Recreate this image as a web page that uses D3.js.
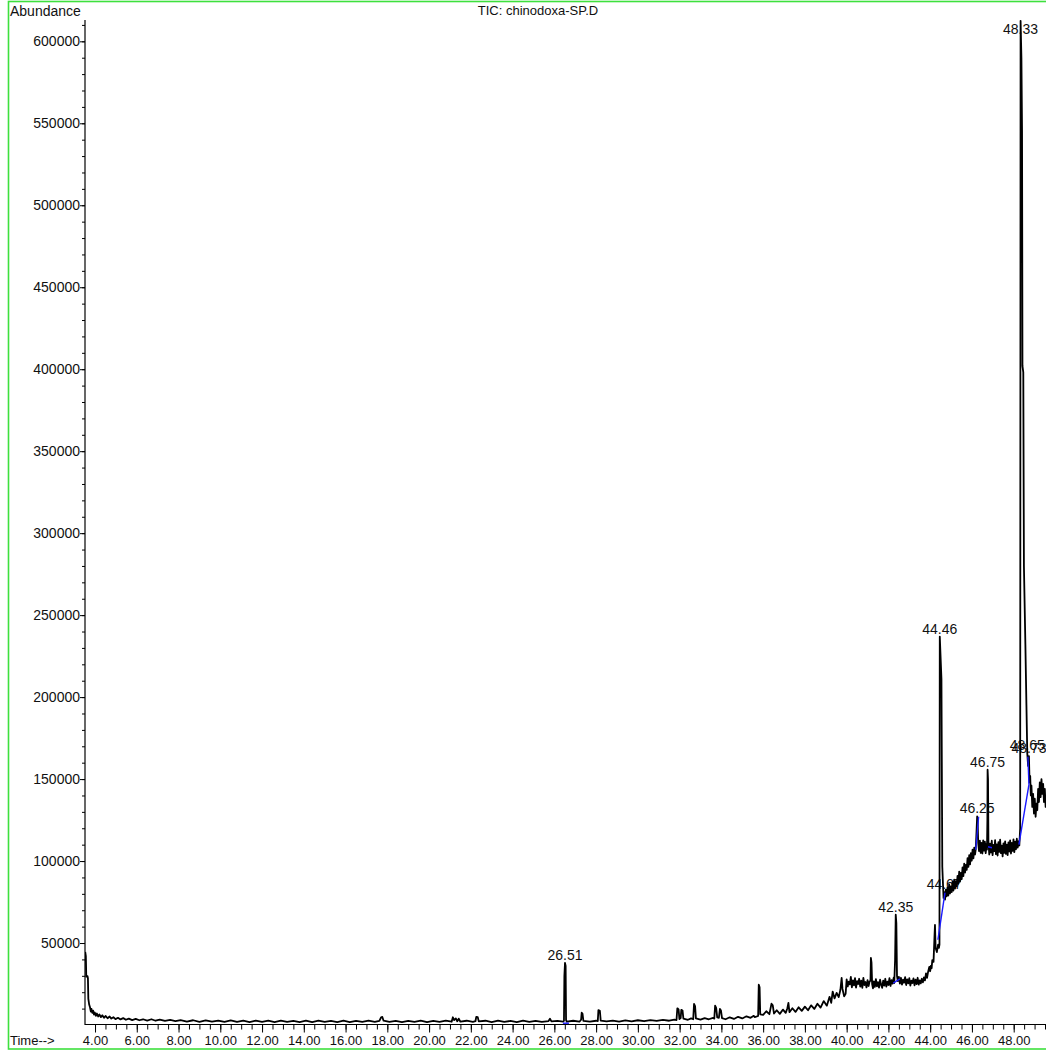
<!DOCTYPE html>
<html><head><meta charset="utf-8">
<script src="https://cdn.jsdelivr.net/npm/d3@7"></script>
<style>
html,body{margin:0;padding:0;background:#fff;overflow:hidden}
svg{display:block;font-family:"Liberation Sans",Arial,Helvetica,sans-serif}
</style></head><body>
<svg id="chart" width="1046" height="1053"></svg>
<script>
// Total ion chromatogram: [retention time (min), abundance]
const ticPoints = [
[3.53,44600],[3.56,42000],[3.57,36000],[3.58,29500],[3.64,29800],[3.66,28500],[3.68,16000],[3.72,12500],[3.76,10800],[3.80,8200],
[3.83,9800],[3.87,7400],[3.91,8800],[3.95,6300],[3.99,7600],[4.04,5600],[4.09,7000],[4.15,5200],[4.21,6400],[4.28,4800],
[4.35,5900],[4.43,4400],[4.51,5500],[4.60,4100],[4.70,5200],[4.78,3900],[4.88,4700],[4.98,3600],[5.10,4400],[5.22,3400],
[5.35,4200],[5.48,3200],[5.62,3900],[5.78,3000],[5.95,3700],[6.12,2900],[6.30,3500],[6.50,2700],[6.70,3500],[6.90,2600],
[7.10,3300],[7.35,2500],[7.60,3100],[7.85,2400],[8.10,3000],[8.40,2100],[8.70,2900],[9.00,1900],[9.30,2800],[9.60,2000],
[9.90,2700],[10.20,1900],[10.50,2800],[10.80,1900],[11.10,2600],[11.40,1800],[11.70,2700],[12.00,1900],[12.30,2600],[12.60,1800],
[12.90,2700],[13.20,1900],[13.50,2500],[13.80,1800],[14.10,2600],[14.40,1800],[14.70,2600],[15.00,1900],[15.30,2500],[15.60,1800],
[15.90,2600],[16.20,1800],[16.50,2500],[16.80,1900],[17.10,2600],[17.40,1900],[17.62,2500],[17.70,4700],[17.76,4900],[17.82,2600],
[18.10,1900],[18.40,2500],[18.70,1800],[19.00,2500],[19.30,1900],[19.60,2600],[19.90,1800],[20.20,2500],[20.50,1900],[20.80,2600],
[21.08,2000],[21.14,4700],[21.20,3000],[21.28,4000],[21.35,2300],[21.42,3900],[21.50,2000],[21.80,2600],[22.10,1900],[22.22,2300],
[22.26,5000],[22.33,4800],[22.38,2200],[22.70,2600],[23.00,1800],[23.30,2600],[23.60,1900],[23.90,2500],[24.20,1800],[24.50,2600],
[24.80,1900],[25.10,2500],[25.40,1900],[25.72,2400],[25.79,3800],[25.86,2200],[26.15,2500],[26.42,2000],[26.46,2600],[26.48,30000],
[26.51,37900],[26.54,36000],[26.56,3000],[26.60,2000],[26.90,2600],[27.20,2000],[27.28,3200],[27.31,7500],[27.35,6800],[27.39,2500],
[27.70,2000],[28.00,2600],[28.08,2400],[28.11,9100],[28.18,8700],[28.22,2700],[28.50,2200],[28.80,2700],[29.10,2100],[29.40,2800],
[29.70,2200],[30.00,2900],[30.30,2300],[30.60,3000],[30.90,2500],[31.20,3100],[31.50,2600],[31.75,3300],[31.85,3000],[31.89,10200],
[31.95,9500],[31.99,3600],[32.05,4200],[32.08,9200],[32.14,8800],[32.18,3900],[32.40,3200],[32.55,4000],[32.65,3500],[32.69,12800],
[32.74,11500],[32.78,4000],[33.00,3300],[33.20,4200],[33.40,3500],[33.60,4300],[33.66,3900],[33.70,11800],[33.75,10500],[33.80,4600],
[33.88,4400],[33.93,9800],[33.98,8800],[34.03,4200],[34.20,3500],[34.40,4700],[34.60,3700],[34.80,5000],[35.00,4000],[35.20,5300],
[35.40,4400],[35.55,5600],[35.60,4800],[35.76,5500],[35.79,24600],[35.83,23000],[35.86,6500],[36.00,6200],[36.15,8400],[36.30,6600],
[36.40,13000],[36.46,12000],[36.52,7000],[36.65,9000],[36.80,6800],[36.95,9400],[37.08,7400],[37.16,10200],[37.21,13500],[37.26,7800],
[37.40,10200],[37.55,8000],[37.70,10800],[37.85,8600],[38.00,11200],[38.15,9000],[38.30,12000],[38.45,9800],[38.60,13000],[38.75,10600],
[38.90,14600],[39.05,11800],[39.18,17200],[39.26,13500],[39.33,20400],[39.42,16200],[39.52,19600],[39.62,17000],[39.70,21500],[39.76,28700],
[39.80,22000],[39.88,17500],[39.95,19000],
[40.00,27800],[40.05,23500],[40.10,26500],[40.15,24800],[40.20,29300],[40.25,23000],[40.30,27200],[40.35,24200],[40.40,28600],[40.45,22800],
[40.50,26800],[40.55,25000],[40.60,28200],[40.65,23400],[40.70,27000],[40.75,22600],[40.80,28800],[40.85,24400],[40.90,26200],[40.95,22900],
[41.00,27400],[41.05,23800],[41.10,26600],[41.14,27000],[41.16,40900],[41.19,38000],[41.22,25000],[41.26,22400],[41.30,26600],[41.35,23200],
[41.40,28000],[41.45,23600],[41.50,26200],[41.55,22800],[41.60,27600],[41.65,24600],[41.70,22700],[41.75,27000],[41.80,24000],[41.85,28200],
[41.90,23400],[41.95,26400],[42.00,24400],[42.05,28600],[42.10,23800],[42.15,27400],[42.20,25200],[42.25,28800],[42.28,25600],[42.32,40000],
[42.35,67300],[42.38,62000],[42.41,30000],[42.45,26800],[42.50,29400],[42.55,25200],[42.60,28800],[42.65,24600],[42.70,27600],[42.75,25800],
[42.80,29200],[42.85,24400],[42.90,27800],[42.95,25400],[43.00,28600],[43.05,24000],[43.10,27000],[43.15,25600],[43.20,28400],[43.25,24200],
[43.30,27600],[43.35,25000],[43.40,28800],[43.45,24600],[43.50,27200],[43.55,25400],[43.60,28200],[43.65,26000],[43.70,29000],[43.75,27200],
[43.80,31500],[43.85,28800],[43.90,32400],[43.96,35500],[44.00,32800],[44.03,36000],[44.07,34600],[44.10,39500],[44.16,38500],[44.21,55000],
[44.23,61000],[44.26,47000],[44.32,44500],[44.38,49000],[44.42,47000],[44.445,49000],[44.46,236900],[44.54,210800],[44.58,96700],[44.64,77500],
[44.67,81000],[44.71,76500],[44.75,82500],[44.79,78500],[44.83,84000],[44.87,79000],[44.91,85800],[44.95,80200],[44.99,84600],[45.03,81000],
[45.07,87500],[45.11,82000],[45.15,88600],[45.19,83200],[45.23,87800],[45.27,84600],[45.31,91000],[45.35,86200],[45.39,93600],[45.43,87400],
[45.47,92800],[45.51,89000],[45.55,96200],[45.59,90800],[45.63,98400],[45.67,93000],[45.71,97600],[45.75,94600],[45.79,101800],[45.83,96400],
[45.87,103600],[45.91,98000],[45.95,104800],[45.99,100200],[46.03,107000],[46.07,101600],[46.11,108200],[46.15,104000],[46.18,107000],[46.21,115000],
[46.25,127200],[46.27,126000],[46.30,111000],[46.34,106000],[46.38,112500],[46.42,105000],[46.46,111000],[46.50,104600],[46.54,112600],[46.58,106400],
[46.62,111800],[46.66,104800],[46.70,110500],[46.72,107000],[46.74,125000],[46.75,155700],[46.77,150000],[46.79,112000],[46.83,104000],[46.87,110600],
[46.91,105200],[46.95,112400],[46.99,103600],[47.03,109800],[47.07,106000],[47.11,112800],[47.15,104200],[47.19,110200],[47.23,103400],[47.27,111600],
[47.31,105600],[47.35,113000],[47.39,104800],[47.43,109400],[47.47,102800],[47.51,110800],[47.55,105000],[47.59,112000],[47.63,104400],[47.67,110000],
[47.71,103600],[47.75,111400],[47.79,105800],[47.83,112600],[47.87,104600],[47.91,111000],[47.95,106200],[47.99,113200],[48.03,105400],[48.07,111800],
[48.11,107200],[48.15,113600],[48.19,108200],[48.23,112000],[48.27,109500],[48.31,120000],[48.33,612500],[48.37,590000],[48.40,545000],[48.42,402000],
[48.46,398000],[48.49,280000],[48.56,232000],[48.61,195000],[48.65,166000],[48.69,158000],[48.73,164000],[48.76,148000],[48.79,152000],[48.82,140000],
[48.85,146000],[48.89,133000],[48.93,141000],[48.97,129000],[49.01,138000],[49.05,127000],[49.09,135000],[49.13,131000],[49.17,144000],[49.21,136000],
[49.25,148000],[49.29,139000],[49.33,150000],[49.37,141000],[49.41,147000],[49.45,136000],[49.49,144000],[49.53,133000],[49.58,140000]
];

// Integration baselines: [start time, start abundance, end time, end abundance]
const baselineSegments = [
[26.41,1100,26.70,1100],
[42.23,25600,42.55,28100],
[44.37,52000,44.71,80800],
[46.18,106900,46.32,127000],
[46.77,108700,46.96,108100],
[48.25,110000,48.73,146600],
[48.73,146600,48.68,163700]
];

// Retention times of labelled peaks
const peakLabelTimes = [26.51, 42.35, 44.46, 44.67, 46.25, 46.75, 48.33, 48.65, 48.73];

// Axis ticks
const yMajorTicks = [50000,100000,150000,200000,250000,300000,350000,400000,450000,500000,550000,600000];
const xMajorTicks = [4,6,8,10,12,14,16,18,20,22,24,26,28,30,32,34,36,38,40,42,44,46,48];

const svg = d3.select("#chart");

const x = d3.scaleLinear().domain([3.52, 49.6]).range([85, 1047.1]);
const y = d3.scaleLinear().domain([0, 613000]).range([1025, 20]);

// outer frame
svg.append("rect")
  .attr("x", 8.5).attr("y", 1.5).attr("width", 1040).attr("height", 1047.5)
  .attr("fill", "none").attr("stroke", "#3ee03e").attr("stroke-width", 1.6);

// header texts
svg.append("text").attr("x", 10).attr("y", 16).attr("font-size", 14).attr("fill", "#111").text("Abundance");
svg.append("text").attr("x", 538).attr("y", 15).attr("font-size", 13).attr("text-anchor", "middle").attr("fill", "#111").text("TIC: chinodoxa-SP.D");
svg.append("text").attr("x", 10).attr("y", 1045).attr("font-size", 13).attr("fill", "#111").text("Time-->");

// y axis
const yMinor = d3.range(10000, 613000, 10000);
svg.append("g").attr("transform", "translate(85,0)")
  .call(d3.axisLeft(y).tickValues(yMinor).tickSize(3).tickFormat(""))
  .call(g => g.select(".domain").remove());
const gy = svg.append("g").attr("transform", "translate(85,0)")
  .call(d3.axisLeft(y).tickValues(yMajorTicks).tickSize(5).tickSizeOuter(0).tickPadding(0).tickFormat(d3.format("d")));
gy.select(".domain").remove();
gy.selectAll("text").attr("font-size", 14).attr("font-family", "Liberation Sans, Arial, sans-serif").attr("fill", "#111");
svg.append("line").attr("x1", 85).attr("x2", 85).attr("y1", y(613000)).attr("y2", y(0))
  .attr("stroke", "#000").attr("stroke-width", 1.2);

// x axis
const xMinor = d3.range(4, 49.6, 0.5);
svg.append("g").attr("transform", "translate(0,1024.5)")
  .call(d3.axisBottom(x).tickValues(xMinor).tickSize(5).tickFormat(""))
  .call(g => g.select(".domain").remove());
const gx = svg.append("g").attr("transform", "translate(0,1024.5)")
  .call(d3.axisBottom(x).tickValues(xMajorTicks).tickSize(8).tickSizeOuter(0).tickPadding(3).tickFormat(d => d.toFixed(2)));
gx.select(".domain").remove();
gx.selectAll("text").attr("font-size", 13).attr("font-family", "Liberation Sans, Arial, sans-serif").attr("fill", "#111");
svg.append("line").attr("x1", 85).attr("x2", 1046).attr("y1", 1024.5).attr("y2", 1024.5)
  .attr("stroke", "#000").attr("stroke-width", 1.2);

// plot clip
svg.append("clipPath").attr("id", "plotClip").append("rect")
  .attr("x", 85).attr("y", 18).attr("width", 965).attr("height", 1008);

// peak labels (drawn beneath the trace)
const apexOf = t => d3.max(ticPoints.filter(p => Math.abs(p[0] - t) < 0.015), p => p[1]);
svg.append("g").selectAll("text").data(peakLabelTimes).join("text")
  .attr("x", d => x(d))
  .attr("y", d => Math.max(y(apexOf(d)) - 3, 34))
  .attr("text-anchor", "middle").attr("font-size", 14).attr("fill", "#111")
  .text(d => d.toFixed(2));

const plot = svg.append("g").attr("clip-path", "url(#plotClip)");

// chromatogram trace
plot.append("path").datum(ticPoints)
  .attr("fill", "none").attr("stroke", "#000").attr("stroke-width", 1.8).attr("stroke-linejoin", "round")
  .attr("d", d3.line().x(d => x(d[0])).y(d => y(d[1])));

// integration baselines
plot.append("g").selectAll("line").data(baselineSegments).join("line")
  .attr("x1", d => x(d[0])).attr("y1", d => y(d[1]))
  .attr("x2", d => x(d[2])).attr("y2", d => y(d[3]))
  .attr("stroke", "#1a1aff").attr("stroke-width", 1.4);
</script>
</body></html>
